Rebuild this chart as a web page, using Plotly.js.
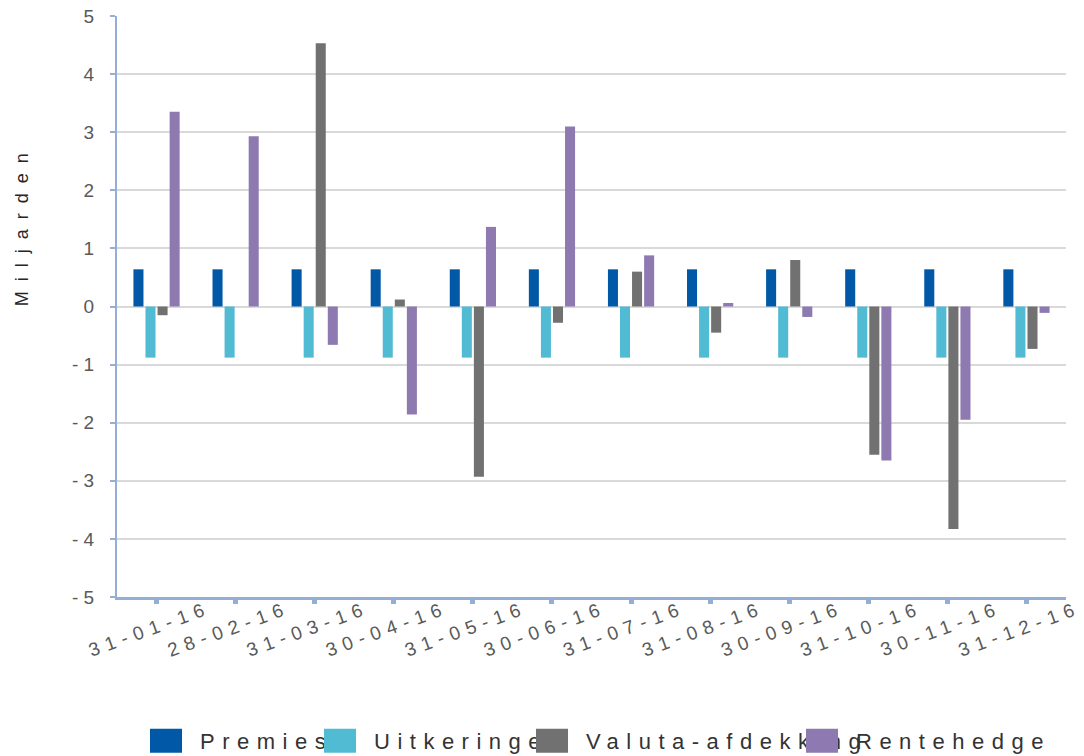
<!DOCTYPE html>
<html><head><meta charset="utf-8">
<script src="https://cdn.plot.ly/plotly-3.0.1.min.js"></script>
<style>
html,body{margin:0;padding:0;background:#fff;}
#chart{width:1084px;height:756px;}
.xtick text{letter-spacing:6.5px;}
.legendtext,.legend2text,.legend3text,.legend4text{letter-spacing:7.5px;}
.annotation-text{letter-spacing:10px;}
</style></head><body><div id="chart"></div>
<script>
const categories = ['31-01-16','28-02-16','31-03-16','30-04-16','31-05-16','30-06-16','31-07-16','31-08-16','30-09-16','31-10-16','30-11-16','31-12-16'];
const premies = [0.64, 0.64, 0.64, 0.64, 0.64, 0.64, 0.64, 0.64, 0.64, 0.64, 0.64, 0.64];
const uitkeringen = [-0.88, -0.88, -0.88, -0.88, -0.88, -0.88, -0.88, -0.88, -0.88, -0.88, -0.88, -0.88];
const valutaAfdekking = [-0.15, 0, 4.53, 0.12, -2.93, -0.28, 0.6, -0.45, 0.8, -2.55, -3.83, -0.73];
const rentehedge = [3.35, 2.93, -0.66, -1.86, 1.37, 3.1, 0.88, 0.06, -0.18, -2.65, -1.95, -0.11];
const seriesNames = ['Premies', 'Uitkeringen', 'Valuta-afdekking', 'Rentehedge'];
const seriesColors = ['#0058A6', '#52BBD4', '#717171', '#8E7AB0'];
const yTickValues = [-5, -4, -3, -2, -1, 0, 1, 2, 3, 4, 5];
const yTitle = 'Miljarden';

const seriesValues = [premies, uitkeringen, valutaAfdekking, rentehedge];
const legendIds = ['legend', 'legend2', 'legend3', 'legend4'];
const legendTextStarts = [200, 374, 586, 856];

const traces = seriesNames.map((name, i) => ({
  type: 'bar', name: name, x: categories, y: seriesValues[i],
  marker: {color: seriesColors[i], line: {width: 0}},
  legend: legendIds[i], hoverinfo: 'x+y+name'
}));

const fontFam = '"Liberation Sans", Arial, sans-serif';
const legendFont = {family: fontFam, size: 22, color: '#333333'};

const layout = {
  width: 1084, height: 756,
  margin: {l: 117, r: 18, t: 16, b: 159, pad: 0},
  paper_bgcolor: '#ffffff', plot_bgcolor: '#ffffff',
  barmode: 'group', bargap: 0.39, bargroupgap: 0.167,
  font: {family: fontFam, color: '#595959'},
  xaxis: {
    type: 'category', showgrid: false, showline: true, linecolor: '#94AED6', linewidth: 3,
    ticks: 'outside', ticklen: 4, tickwidth: 5, tickcolor: '#94AED6',
    tickangle: -20, tickfont: {family: fontFam, size: 19, color: '#595959'},
    ticklabelshift: 52, ticklabelstandoff: -13, automargin: false
  },
  yaxis: {
    range: [-5, 5], tickvals: yTickValues,
    ticktext: yTickValues.map(v => v < 0 ? '- ' + Math.abs(v) : String(v)),
    showgrid: true, gridcolor: '#D9D9D9', gridwidth: 2,
    zeroline: false, showline: true, linecolor: '#94AED6', linewidth: 2,
    ticks: 'outside', ticklen: 5, tickwidth: 2, tickcolor: '#94AED6',
    tickfont: {family: fontFam, size: 19, color: '#595959'},
    ticklabelstandoff: 12, automargin: false
  },
  annotations: [{
    text: yTitle, textangle: -90, xref: 'paper', yref: 'paper',
    x: -0.1, y: 0.64, xanchor: 'center', yanchor: 'middle', showarrow: false,
    font: {family: fontFam, size: 18, color: '#262626'}
  }],
  showlegend: true
};
legendIds.forEach((id, i) => {
  layout[id] = {
    xref: 'container', yref: 'container', x: (legendTextStarts[i] - 68) / 1084, y: 1 - 741 / 756,
    xanchor: 'left', yanchor: 'middle', orientation: 'h', bgcolor: 'rgba(0,0,0,0)',
    borderwidth: 0, itemwidth: 58, font: legendFont
  };
});

Plotly.newPlot('chart', traces, layout, {displayModeBar: false, staticPlot: true}).then(gd => {
  gd.querySelectorAll('.legendpoints path').forEach(p => {
    const bb = p.getBBox();
    const cx = bb.x + bb.width / 2, cy = bb.y + bb.height / 2;
    const old = p.getAttribute('transform') || '';
    p.setAttribute('transform', old + ' translate(' + cx + ',' + cy + ') scale(2.67,2) translate(' + (-cx) + ',' + (-cy) + ')');
  });
});
</script></body></html>
